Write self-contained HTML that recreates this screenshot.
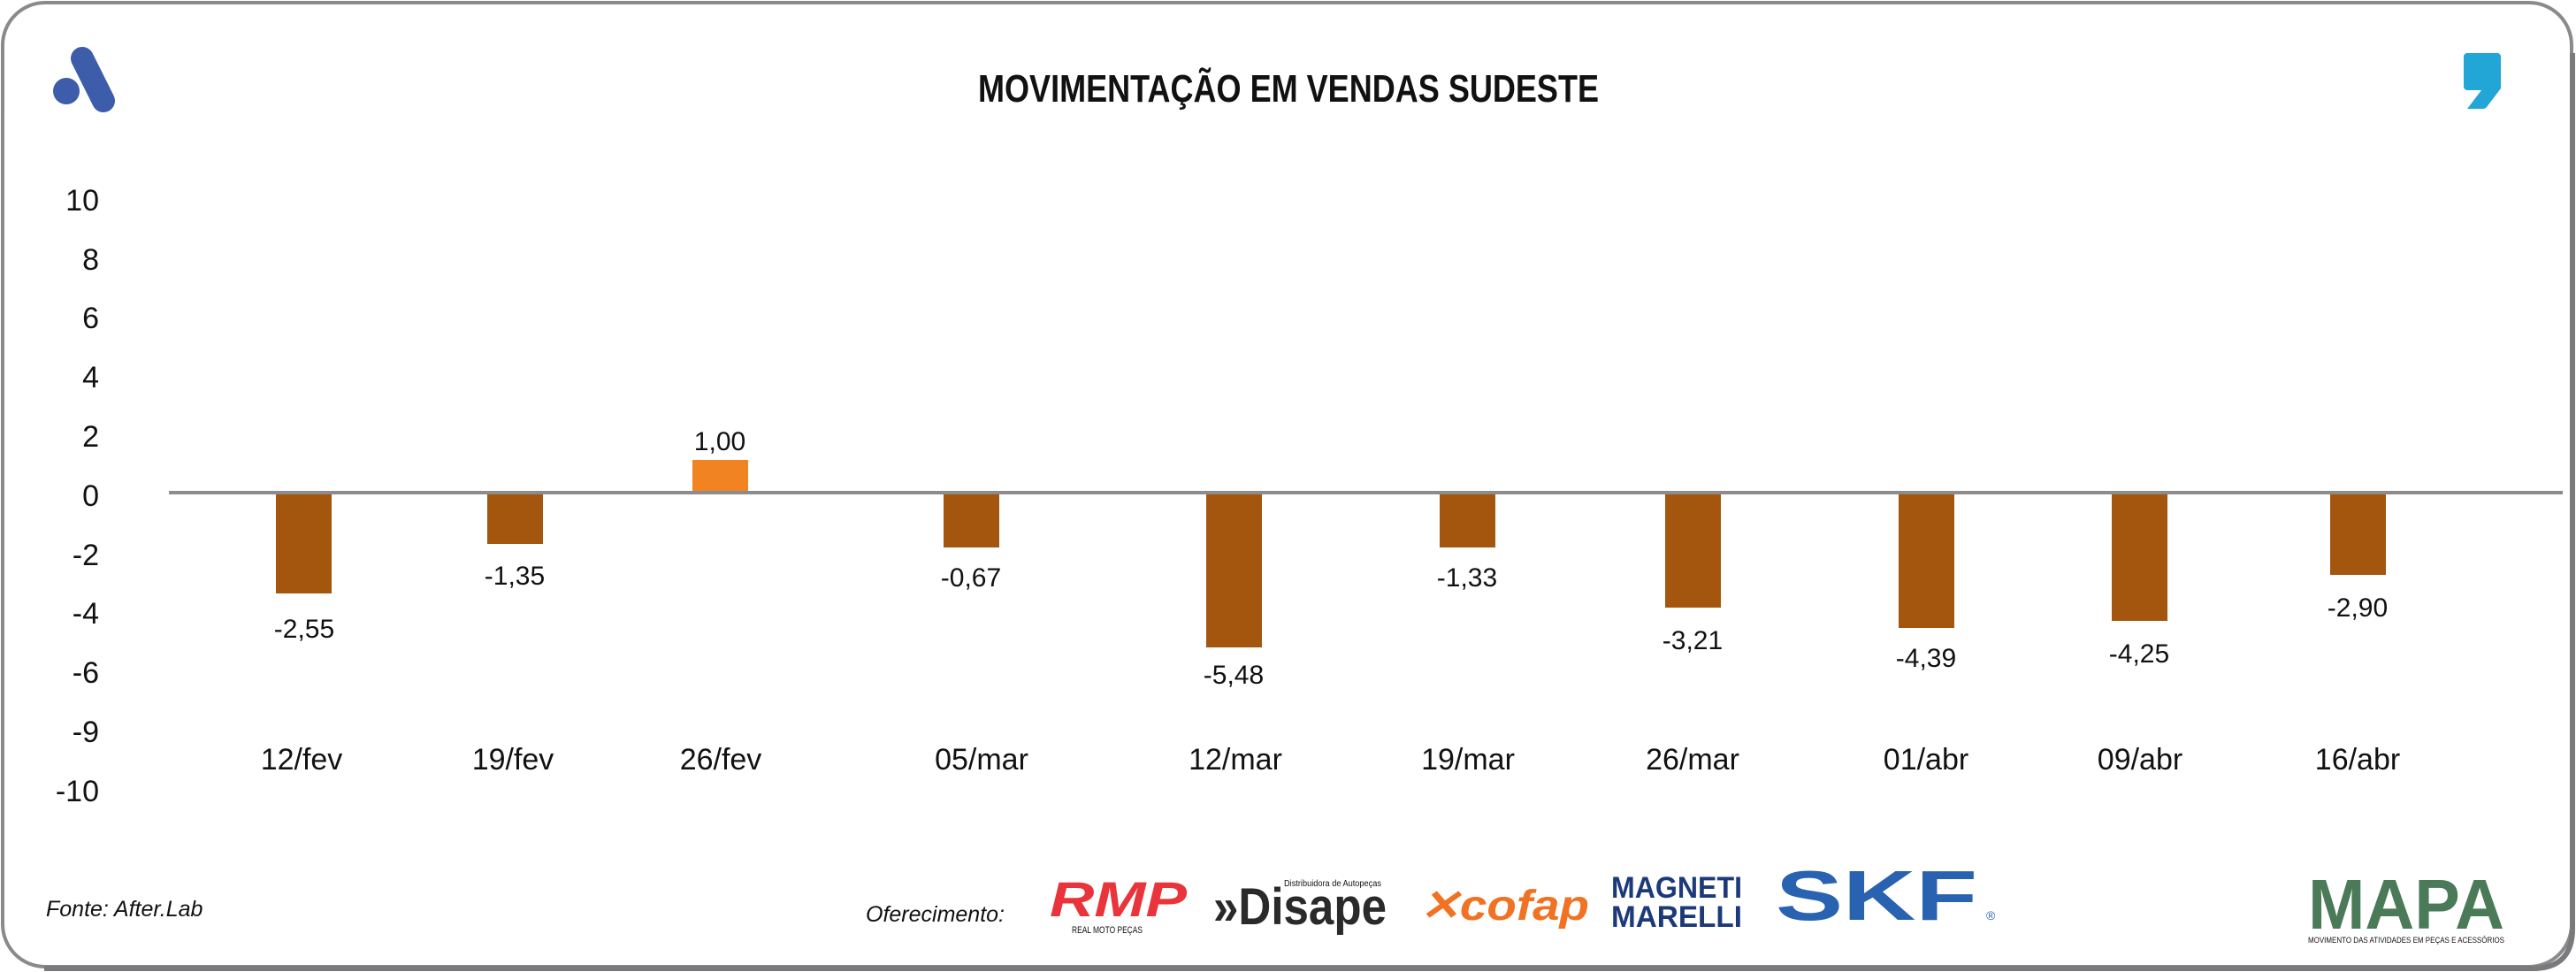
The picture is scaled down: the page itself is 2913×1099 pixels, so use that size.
<!DOCTYPE html>
<html><head><meta charset="utf-8"><style>
html,body{margin:0;padding:0;background:#fff}
svg{display:block}
text{font-family:"Liberation Sans",sans-serif;fill:#111}
</style></head><body>
<svg width="2913" height="1099" viewBox="0 0 2913 1099" xmlns="http://www.w3.org/2000/svg">
<rect x="0" y="0" width="2913" height="1099" fill="#fff"/>
<rect x="3" y="3" width="2905" height="1090" rx="48" ry="48" fill="none" stroke="#8a8a8c" stroke-width="4"/>
<path d="M2909 60 L2909 1050 Q2909 1095 2864 1095 L50 1095" fill="none" stroke="#7a7a7c" stroke-width="6"/>
<!-- left logo -->
<circle cx="75" cy="103" r="15" fill="#3d5daa"/>
<line x1="93" y1="66" x2="117" y2="114" stroke="#3d5daa" stroke-width="26" stroke-linecap="round"/>
<!-- right quote -->
<path d="M2790 60 h34 a4 4 0 0 1 4 4 v36 l-16 21 a5 5 0 0 1 -4 2 h-18 l16 -21 h-16 a4 4 0 0 1 -4 -4 v-34 a4 4 0 0 1 4 -4z" fill="#22a6d6"/>
<!-- title -->
<text x="1106" y="115" font-size="44" font-weight="bold" textLength="702" lengthAdjust="spacingAndGlyphs">MOVIMENTAÇÃO EM VENDAS SUDESTE</text>
<!-- y ticks -->
<g font-size="34" text-anchor="end">
<text x="112" y="238">10</text>
<text x="112" y="305">8</text>
<text x="112" y="371">6</text>
<text x="112" y="438">4</text>
<text x="112" y="505">2</text>
<text x="112" y="572">0</text>
<text x="112" y="639">-2</text>
<text x="112" y="705">-4</text>
<text x="112" y="772">-6</text>
<text x="112" y="839">-9</text>
<text x="112" y="906">-10</text>
</g>
<!-- bars -->
<g fill="#a4560e">
<rect x="312" y="557" width="63" height="114"/>
<rect x="551" y="557" width="63" height="58"/>
<rect x="1067" y="557" width="63" height="62"/>
<rect x="1364" y="557" width="63" height="175"/>
<rect x="1628" y="557" width="63" height="62"/>
<rect x="1883" y="557" width="63" height="130"/>
<rect x="2147" y="557" width="63" height="153"/>
<rect x="2388" y="557" width="63" height="145"/>
<rect x="2635" y="557" width="63" height="93"/>
</g>
<rect x="783" y="520" width="63" height="37" fill="#f28322"/>
<line x1="191" y1="557" x2="2898" y2="557" stroke="#8c8c8c" stroke-width="4"/>
<!-- value labels -->
<g font-size="30" text-anchor="middle">
<text x="344" y="721">-2,55</text>
<text x="582" y="661">-1,35</text>
<text x="814" y="509">1,00</text>
<text x="1098" y="663">-0,67</text>
<text x="1395" y="773">-5,48</text>
<text x="1659" y="663">-1,33</text>
<text x="1914" y="734">-3,21</text>
<text x="2178" y="754">-4,39</text>
<text x="2419" y="749">-4,25</text>
<text x="2666" y="697">-2,90</text>
</g>
<!-- x labels -->
<g font-size="34" text-anchor="middle">
<text x="341" y="870">12/fev</text>
<text x="580" y="870">19/fev</text>
<text x="815" y="870">26/fev</text>
<text x="1110" y="870">05/mar</text>
<text x="1397" y="870">12/mar</text>
<text x="1660" y="870">19/mar</text>
<text x="1914" y="870">26/mar</text>
<text x="2178" y="870">01/abr</text>
<text x="2420" y="870">09/abr</text>
<text x="2666" y="870">16/abr</text>
</g>
<!-- footer -->
<text x="52" y="1036" font-size="25" font-style="italic">Fonte: After.Lab</text>
<text x="979" y="1042" font-size="25" font-style="italic">Oferecimento:</text>
<!-- logos -->
<text x="1187" y="1036" font-size="56" font-weight="bold" font-style="italic" fill="#e8343a" style="fill:#e8343a" textLength="155" lengthAdjust="spacingAndGlyphs">RMP</text>
<text x="1212" y="1055" font-size="11" textLength="80" lengthAdjust="spacingAndGlyphs">REAL MOTO PEÇAS</text>
<text x="1372" y="1045" font-size="58" font-weight="bold" style="fill:#2a2a2a" textLength="196" lengthAdjust="spacingAndGlyphs">»Disape</text>
<text x="1452" y="1002" font-size="10" textLength="110" lengthAdjust="spacingAndGlyphs">Distribuidora de Autopeças</text>
<text x="1605" y="1040" font-size="48" font-weight="bold" font-style="italic" style="fill:#f07222" textLength="192" lengthAdjust="spacingAndGlyphs">✕cofap</text>
<text x="1822" y="1015" font-size="34" font-weight="bold" style="fill:#1c3a7a" textLength="148" lengthAdjust="spacingAndGlyphs">MAGNETI</text>
<text x="1822" y="1048" font-size="34" font-weight="bold" style="fill:#1c3a7a" textLength="148" lengthAdjust="spacingAndGlyphs">MARELLI</text>
<text x="2008" y="1040" font-size="80" font-weight="bold" style="fill:#2962b0" textLength="228" lengthAdjust="spacingAndGlyphs">SKF</text>
<text x="2246" y="1040" font-size="14" style="fill:#2962b0">®</text>
<text x="2610" y="1050" font-size="80" font-weight="bold" style="fill:#4a7a58" textLength="222" lengthAdjust="spacingAndGlyphs">MAPA</text>
<text x="2610" y="1066" font-size="9" textLength="222" lengthAdjust="spacingAndGlyphs">MOVIMENTO DAS ATIVIDADES EM PEÇAS E ACESSÓRIOS</text>
</svg>
</body></html>
